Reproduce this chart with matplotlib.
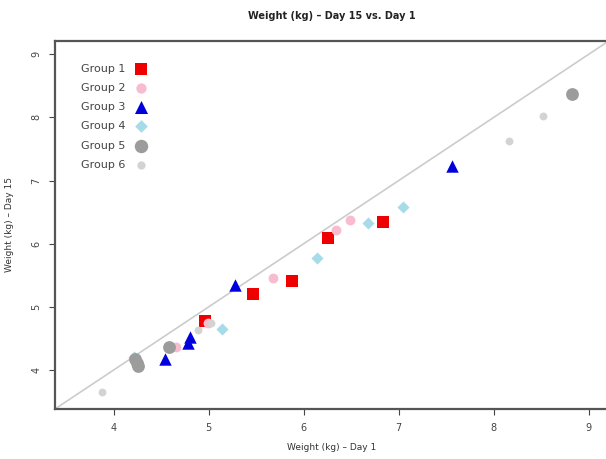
import matplotlib
matplotlib.use('Agg')
import matplotlib.pyplot as plt

# weights, day 1 (x) vs day 15 (y)
g1_x = [4.96, 5.47, 5.88, 6.26, 6.84]
g1_y = [4.77, 5.20, 5.41, 6.09, 6.34]
g2_x = [4.66, 4.99, 5.68, 6.34, 6.49]
g2_y = [4.36, 4.74, 5.46, 6.22, 6.37]
g3_x = [4.54, 4.78, 4.80, 5.28, 7.56]
g3_y = [4.17, 4.43, 4.52, 5.35, 7.23]
g4_x = [4.21, 5.14, 6.14, 6.68, 7.05]
g4_y = [4.21, 4.65, 5.77, 6.33, 6.58]
g5_x = [4.23, 4.25, 4.26, 4.58, 8.82]
g5_y = [4.17, 4.11, 4.06, 4.36, 8.37]
g6_x = [3.88, 4.89, 5.02, 8.16, 8.52]
g6_y = [3.65, 4.63, 4.74, 7.62, 8.03]

groups = ['Group 1', 'Group 2', 'Group 3', 'Group 4', 'Group 5', 'Group 6']
xs = [g1_x, g2_x, g3_x, g4_x, g5_x, g6_x]
ys = [g1_y, g2_y, g3_y, g4_y, g5_y, g6_y]
markers = ['s', 'o', '^', 'D', 'o', 'o']
colors = ['#ee0000', '#f7bcd0', '#0000dd', '#a6dcea', '#9c9c9c', '#d3d3d3']
sizes = [70, 50, 80, 38, 85, 32]

lim = (3.384, 9.212)
ticks = [4, 5, 6, 7, 8, 9]

fig = plt.figure(figsize=(6.06, 4.59), dpi=100)
ax = fig.add_axes([0.0908, 0.109, 0.914, 0.802])

ax.plot(lim, lim, color='#cccccc', lw=1.2, zorder=1)

for name, x, y, m, c, s in zip(groups, xs, ys, markers, colors, sizes):
    ax.scatter(x, y, marker=m, color=c, s=s, label=name, linewidths=0, zorder=2)

ax.set_xlim(lim)
ax.set_ylim(lim)
ax.set_xticks(ticks)
ax.set_yticks(ticks)
for sp in ax.spines.values():
    sp.set_color('#555555')
    sp.set_linewidth(1.6)
ax.tick_params(direction='out', length=4, width=0.8, colors='#444444', labelsize=7, pad=6)
for lbl in ax.get_yticklabels():
    lbl.set_rotation(90)
    lbl.set_va('center')

ax.set_title('Weight (kg) – Day 15 vs. Day 1', fontsize=7, fontweight='bold', color='#222222', pad=16)
ax.set_xlabel('Weight (kg) – Day 1', fontsize=6.5, color='#333333', labelpad=7)
ax.set_ylabel('Weight (kg) – Day 15', fontsize=6.5, color='#333333', labelpad=12)

leg = ax.legend(loc='upper left', bbox_to_anchor=(0.035, 0.955), frameon=False, markerfirst=False,
                fontsize=8, labelspacing=0.82, handletextpad=0.35, borderaxespad=0.2,
                markerscale=1.05)
for t in leg.get_texts():
    t.set_color('#444444')

plt.savefig('out.png', dpi=100)
